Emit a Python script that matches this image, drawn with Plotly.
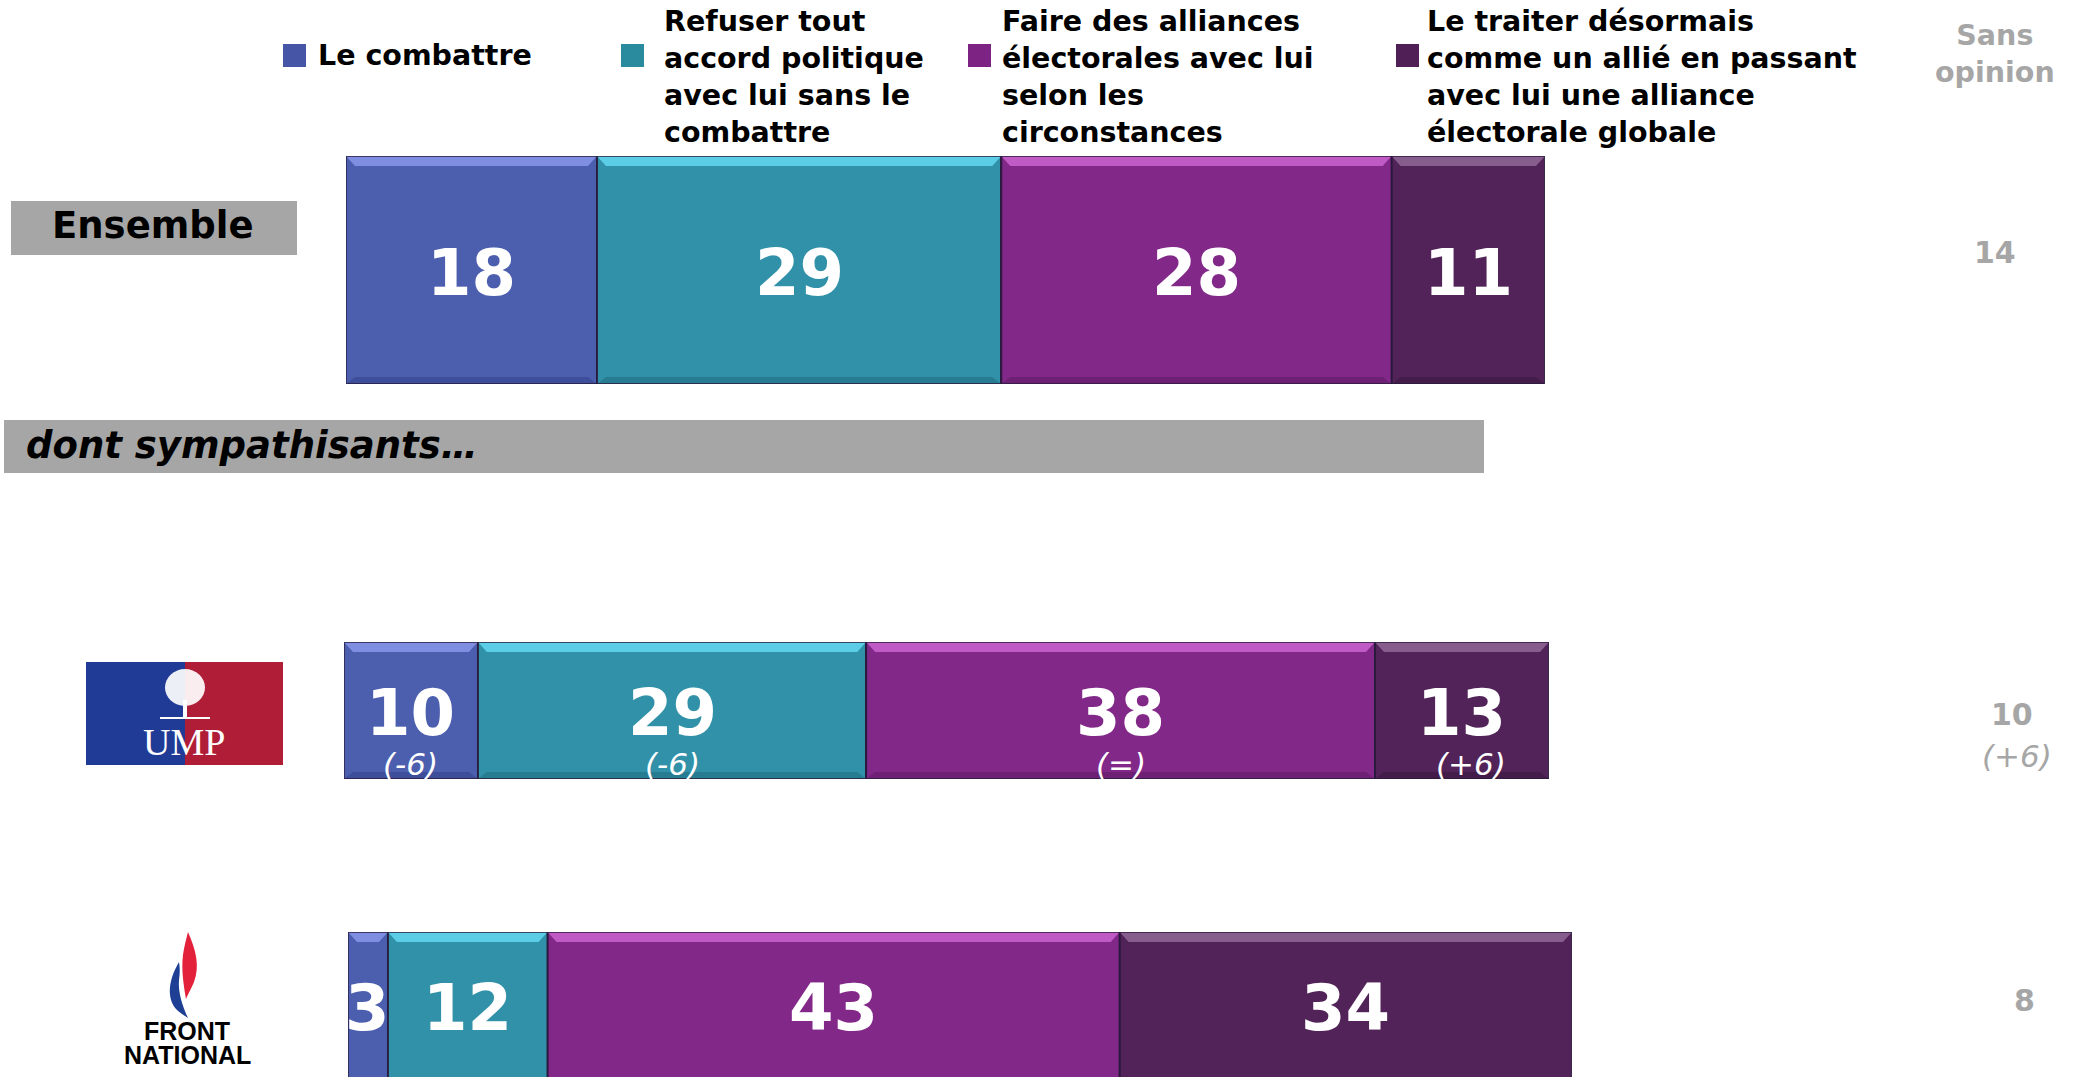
import plotly.graph_objects as go

# ---------------- data ----------------
categories = [
    "Le combattre",
    "Refuser tout accord politique avec lui sans le combattre",
    "Faire des alliances électorales avec lui selon les circonstances",
    "Le traiter désormais comme un allié en passant avec lui une alliance électorale globale",
]
legend_labels = [
    "Le combattre",
    "Refuser tout<br>accord politique<br>avec lui sans le<br>combattre",
    "Faire des alliances<br>électorales avec lui<br>selon les<br>circonstances",
    "Le traiter désormais<br>comme un allié en passant<br>avec lui une alliance<br>électorale globale",
]
groups = ["Ensemble", "UMP", "Front National"]
ensemble_values = [18, 29, 28, 11]
ump_values = [10, 29, 38, 13]
fn_values = [3, 12, 43, 34]
ump_changes = ["(-6)", "(-6)", "(=)", "(+6)"]
sans_opinion = [14, 10, 8]
sans_opinion_changes = ["", "(+6)", ""]
sans_opinion_title = "Sans<br>opinion"
section_label = "dont sympathisants…"

# ---------------- style ----------------
W, H = 2085, 1077
def px(x): return x / W
def py(y): return 1 - y / H

colors = ["#4C5EAE", "#3191A8", "#822889", "#522358"]
legend_colors = ["#4655A5", "#2A8A9E", "#7C2384", "#4F1F56"]
bevel_top = ["#8593E6", "#62D4EC", "#C660CC", "#8D6494"]
bevel_bot = ["#3D4C98", "#277A8E", "#6C1F72", "#431C49"]
edge = "rgba(40,25,60,0.75)"
grey = "#A6A6A6"
FONT = "DejaVu Sans"

def pann(x, y, text, size, color="black", family=FONT, xanchor="center", align="center"):
    return dict(x=px(x), y=py(y), xref="paper", yref="paper", showarrow=False,
                xanchor=xanchor, yanchor="middle", align=align, text=text,
                font=dict(family=family, size=size, color=color))

values_by_row = [ensemble_values, ump_values, fn_values]
row_layout = [
    dict(x0=346, x1=1545, ytop=156, ybot=384, barpx=228),
    dict(x0=344, x1=1549, ytop=642, ybot=779, barpx=137),
    dict(x0=348, x1=1572, ytop=932, ybot=1077, barpx=152),
]
num_shift = [-3, -2, 0]
so_pos = [(1995, 253), (2012, 714), (2024, 1000)]

fig = go.Figure()
layout_axes = {}
shapes = []
annotations = []

for r, vals in enumerate(values_by_row):
    suf = "" if r == 0 else str(r + 1)
    xa, ya = "x" + suf, "y" + suf
    rl = row_layout[r]
    total = sum(vals)
    vis = rl["ybot"] - rl["ytop"]
    yr = [0.5 - vis / rl["barpx"], 0.5]
    for i, v in enumerate(vals):
        fig.add_trace(go.Bar(
            x=[v], y=[groups[r]], orientation="h", name=categories[i],
            marker=dict(color=colors[i], line=dict(color=edge, width=1.5)),
            xaxis=xa, yaxis=ya, showlegend=False, hoverinfo="x+name",
        ))
    layout_axes["xaxis" + suf] = dict(domain=[px(rl["x0"]), px(rl["x1"])], range=[0, total],
                                      visible=False, anchor=ya, fixedrange=True)
    layout_axes["yaxis" + suf] = dict(domain=[py(rl["ybot"]), py(rl["ytop"])], range=yr,
                                      visible=False, anchor=xa, type="category", fixedrange=True)
    unit_px = (rl["x1"] - rl["x0"]) / total
    cum = 0
    for i, v in enumerate(vals):
        a, b = cum, cum + v
        d = 9 / unit_px
        tb = 10 / rl["barpx"]
        bb = 7 / rl["barpx"]
        shapes.append(dict(type="path", xref=xa, yref=ya, layer="above", line=dict(width=0),
                           fillcolor=bevel_top[i], opacity=0.9,
                           path=f"M {a},{0.5} L {b},{0.5} L {b - d},{0.5 - tb} L {a + d},{0.5 - tb} Z"))
        shapes.append(dict(type="path", xref=xa, yref=ya, layer="above", line=dict(width=0),
                           fillcolor=bevel_bot[i], opacity=0.9,
                           path=f"M {a},{-0.5} L {b},{-0.5} L {b - d},{-0.5 + bb} L {a + d},{-0.5 + bb} Z"))
        shapes.append(dict(type="rect", xref=xa, yref=ya, layer="above",
                           x0=a, x1=b, y0=-0.5, y1=0.5, line=dict(color=edge, width=1.8)))
        annotations.append(dict(x=(a + b) / 2, y=0, xref=xa, yref=ya, text=f"<b>{v}</b>",
                                showarrow=False, yshift=num_shift[r], xanchor="center", yanchor="middle",
                                font=dict(family=FONT, size=64, color="white")))
        if r == 1:
            annotations.append(dict(x=(a + b) / 2, y=0, xref=xa, yref=ya,
                                    text=f"<i>{ump_changes[i]}</i>", showarrow=False,
                                    yshift=-53, xshift=(9 if i == 3 else 0),
                                    xanchor="center", yanchor="middle",
                                    font=dict(family=FONT, size=31, color="white")))
        cum = b
    sx, sy = so_pos[r]
    annotations.append(pann(sx, sy, f"<b>{sans_opinion[r]}</b>", 30, grey))
    if sans_opinion_changes[r]:
        annotations.append(pann(2017, 756, f"<i>{sans_opinion_changes[r]}</i>", 31, grey))

# ---------------- legend (drawn) ----------------
leg_sq_x = [283, 621, 968, 1396]
leg_tx_x = [316, 662, 1000, 1425]
leg_ty = [55, 77, 77, 77]
for i in range(4):
    shapes.append(dict(type="rect", xref="paper", yref="paper", line=dict(width=0),
                       fillcolor=legend_colors[i],
                       x0=px(leg_sq_x[i]), x1=px(leg_sq_x[i] + 23), y0=py(67), y1=py(44)))
    annotations.append(pann(leg_tx_x[i], leg_ty[i], f"<b>{legend_labels[i]}</b>", 28.5,
                            xanchor="left", align="left"))
annotations.append(pann(1995, 54, f"<b>{sans_opinion_title}</b>", 28.5, grey))

# ---------------- row labels ----------------
shapes.append(dict(type="rect", xref="paper", yref="paper", line=dict(width=0), fillcolor=grey,
                   x0=px(11), x1=px(297), y0=py(255), y1=py(201)))
annotations.append(pann(153, 226, f"<b>{groups[0]}</b>", 37))
shapes.append(dict(type="rect", xref="paper", yref="paper", line=dict(width=0), fillcolor=grey,
                   x0=px(4), x1=px(1484), y0=py(473), y1=py(420)))
annotations.append(pann(24, 445, f"<b><i>{section_label}</i></b>", 37, xanchor="left", align="left"))

# UMP logo
shapes += [
    dict(type="rect", xref="paper", yref="paper", line=dict(width=0), fillcolor="#1F3B95",
         x0=px(86), x1=px(185), y0=py(765), y1=py(662)),
    dict(type="rect", xref="paper", yref="paper", line=dict(width=0), fillcolor="#AF1D36",
         x0=px(185), x1=px(283), y0=py(765), y1=py(662)),
    dict(type="circle", xref="paper", yref="paper", line=dict(width=0), fillcolor="rgba(255,255,255,0.92)",
         x0=px(165), x1=px(205), y0=py(706), y1=py(669)),
    dict(type="rect", xref="paper", yref="paper", line=dict(width=0), fillcolor="white",
         x0=px(183), x1=px(187), y0=py(717), y1=py(700)),
    dict(type="rect", xref="paper", yref="paper", line=dict(width=0), fillcolor="white",
         x0=px(160), x1=px(210), y0=py(719), y1=py(717)),
]
annotations.append(pann(184, 742, groups[1], 38, "white", family="Liberation Serif"))

# FN logo
def pth(points_cmd):
    out = []
    for tok in points_cmd:
        if isinstance(tok, str):
            out.append(tok)
        else:
            out.append(f"{px(tok[0])},{py(tok[1])}")
    return " ".join(out)

red_flame = pth(["M", (188, 932), "C", (196, 950), (200, 966), (194, 982),
                 "C", (191, 989), (188, 994), (186, 999),
                 "C", (184, 987), (181, 970), (183, 955),
                 "C", (184, 947), (186, 940), (188, 932), "Z"])
blue_flame = pth(["M", (179, 962), "C", (169, 979), (166, 997), (176, 1009),
                  "C", (180, 1013), (184, 1015), (188, 1018),
                  "C", (182, 1005), (178, 992), (179, 980),
                  "C", (180, 973), (180, 968), (179, 962), "Z"])
shapes.append(dict(type="path", xref="paper", yref="paper", line=dict(width=0), fillcolor="#E3213B",
                   path=red_flame))
shapes.append(dict(type="path", xref="paper", yref="paper", line=dict(width=0), fillcolor="#1E3F94",
                   path=blue_flame))
annotations.append(pann(187, 1031, "<b>FRONT</b>", 25, family="Liberation Sans"))
annotations.append(pann(187, 1055, "<b>NATIONAL</b>", 25, family="Liberation Sans"))

fig.update_layout(
    width=W, height=H, margin=dict(l=0, r=0, t=0, b=0),
    paper_bgcolor="white", plot_bgcolor="rgba(0,0,0,0)",
    barmode="stack", bargap=0, showlegend=False,
    shapes=shapes, annotations=annotations,
    **layout_axes,
)

fig.write_html("out.html", config={"displayModeBar": False},
               post_script="document.body.style.margin='0';document.body.style.overflow='hidden';")
